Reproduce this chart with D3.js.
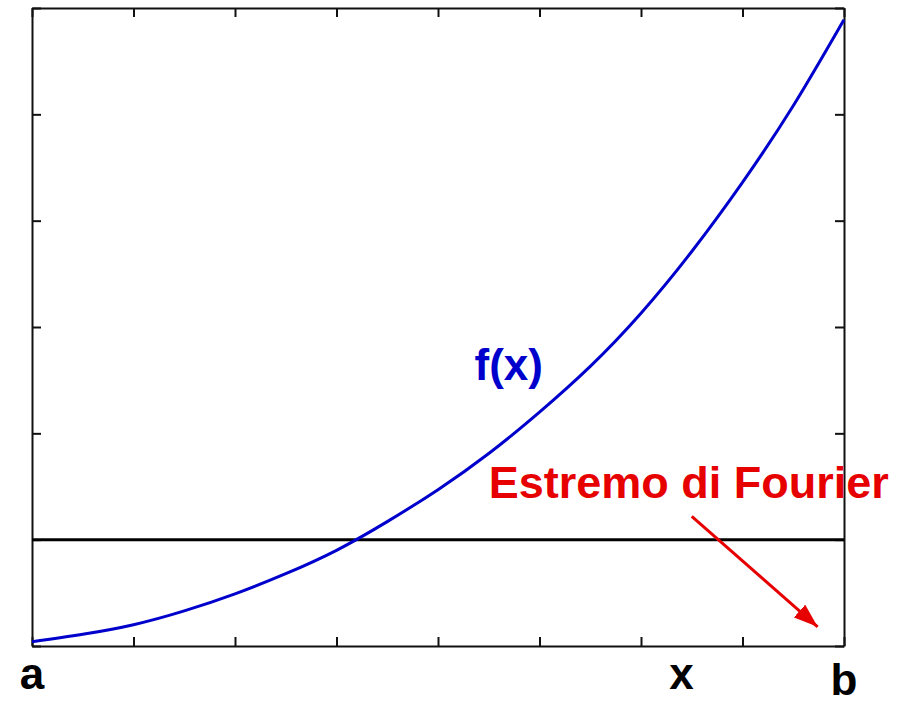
<!DOCTYPE html>
<html>
<head>
<meta charset="utf-8">
<script src="https://cdn.jsdelivr.net/npm/d3@7/dist/d3.min.js"></script>
<style>
  html, body { margin: 0; padding: 0; background: #fff; }
  svg { display: block; }
  text { font-family: "Liberation Sans", Arial, sans-serif; }
</style>
</head>
<body>
<script>
// Sampled values of f(x) over the interval [a, b]
const xValues = [0, 0.5, 1, 1.5, 2, 2.5, 3, 3.5, 4, 4.5, 5, 5.5, 6, 6.5, 7, 7.5, 8];
const fValues = [0.04, 0.11, 0.2, 0.33, 0.49, 0.68, 0.9, 1.17, 1.47, 1.81, 2.2, 2.63, 3.13, 3.71, 4.36, 5.08, 5.89];

// Horizontal reference level
const levelValue = 1;

// Axis tick positions (unlabelled)
const xTicks = [0, 1, 2, 3, 4, 5, 6, 7, 8];
const yTicks = [0, 1, 2, 3, 4, 5, 6];

// Point labels along the x axis
const axisLabelText = ["a", "x", "b"];
const axisLabelAt = [0, 6.4, 8];

// Curve label and annotation
const curveLabel = "f(x)";
const curveLabelAt = [4.36, 2.5];
const noteText = "Estremo di Fourier";
const noteAt = [4.5, 1.39];
const arrowFrom = [6.5, 1.22];
const arrowTo = [7.74, 0.18];

const W = 912, H = 705;
const margin = { left: 32, right: 68, top: 8, bottom: 59 };

const x = d3.scaleLinear().domain([0, 8]).range([margin.left, W - margin.right]);
const y = d3.scaleLinear().domain([0, 6]).range([H - margin.bottom, margin.top]);

const svg = d3.select("body").append("svg").attr("width", W).attr("height", H);

svg.append("defs").append("marker")
  .attr("id", "arrowhead")
  .attr("viewBox", "0 0 24 17")
  .attr("refX", 24).attr("refY", 8.5)
  .attr("markerWidth", 24).attr("markerHeight", 17)
  .attr("markerUnits", "userSpaceOnUse")
  .attr("orient", "auto")
  .append("path")
  .attr("d", "M0,0 L24,8.5 L0,17 Z")
  .attr("fill", "#e60000");

const tickLen = 9;
const styleAxis = g => {
  g.select(".domain").attr("stroke", "#111").attr("stroke-width", 2);
  g.selectAll(".tick line").attr("stroke", "#111").attr("stroke-width", 2);
  g.selectAll(".tick text").remove();
};

// Four-sided frame with inward ticks
svg.append("g").attr("transform", `translate(0,${y(0)})`)
  .call(d3.axisBottom(x).tickValues(xTicks).tickSizeInner(-tickLen).tickSizeOuter(0).tickFormat(""))
  .call(styleAxis);
svg.append("g").attr("transform", `translate(0,${y(6)})`)
  .call(d3.axisTop(x).tickValues(xTicks).tickSizeInner(-tickLen).tickSizeOuter(0).tickFormat(""))
  .call(styleAxis);
svg.append("g").attr("transform", `translate(${x(0)},0)`)
  .call(d3.axisLeft(y).tickValues(yTicks).tickSizeInner(-tickLen).tickSizeOuter(0).tickFormat(""))
  .call(styleAxis);
svg.append("g").attr("transform", `translate(${x(8)},0)`)
  .call(d3.axisRight(y).tickValues(yTicks).tickSizeInner(-tickLen).tickSizeOuter(0).tickFormat(""))
  .call(styleAxis);

// Horizontal level line
svg.append("line")
  .attr("x1", x(0)).attr("x2", x(8))
  .attr("y1", y(levelValue)).attr("y2", y(levelValue))
  .attr("stroke", "#000").attr("stroke-width", 3);

// f(x)
const pts = xValues.map((v, i) => [v, fValues[i]]);
svg.append("path")
  .datum(pts)
  .attr("fill", "none")
  .attr("stroke", "#0000cc")
  .attr("stroke-width", 3)
  .attr("d", d3.line().x(d => x(d[0])).y(d => y(d[1])).curve(d3.curveNatural));

// Labels under the x axis
svg.selectAll("text.axislabel")
  .data(axisLabelText)
  .join("text")
  .attr("class", "axislabel")
  .attr("x", (d, i) => x(axisLabelAt[i]))
  .attr("y", (d, i) => i === 2 ? 695 : 689)
  .attr("text-anchor", "middle")
  .attr("font-size", 44)
  .attr("font-weight", "bold")
  .attr("fill", "#000")
  .text(d => d);

svg.append("text")
  .attr("x", x(curveLabelAt[0])).attr("y", y(curveLabelAt[1]))
  .attr("font-size", 44).attr("font-weight", "bold")
  .attr("fill", "#0000cc")
  .text(curveLabel);

svg.append("text")
  .attr("x", x(noteAt[0])).attr("y", y(noteAt[1]))
  .attr("font-size", 45).attr("font-weight", "bold")
  .attr("fill", "#e60000")
  .text(noteText);

svg.append("line")
  .attr("x1", x(arrowFrom[0])).attr("y1", y(arrowFrom[1]))
  .attr("x2", x(arrowTo[0])).attr("y2", y(arrowTo[1]))
  .attr("stroke", "#e60000").attr("stroke-width", 3)
  .attr("marker-end", "url(#arrowhead)");
</script>
</body>
</html>
